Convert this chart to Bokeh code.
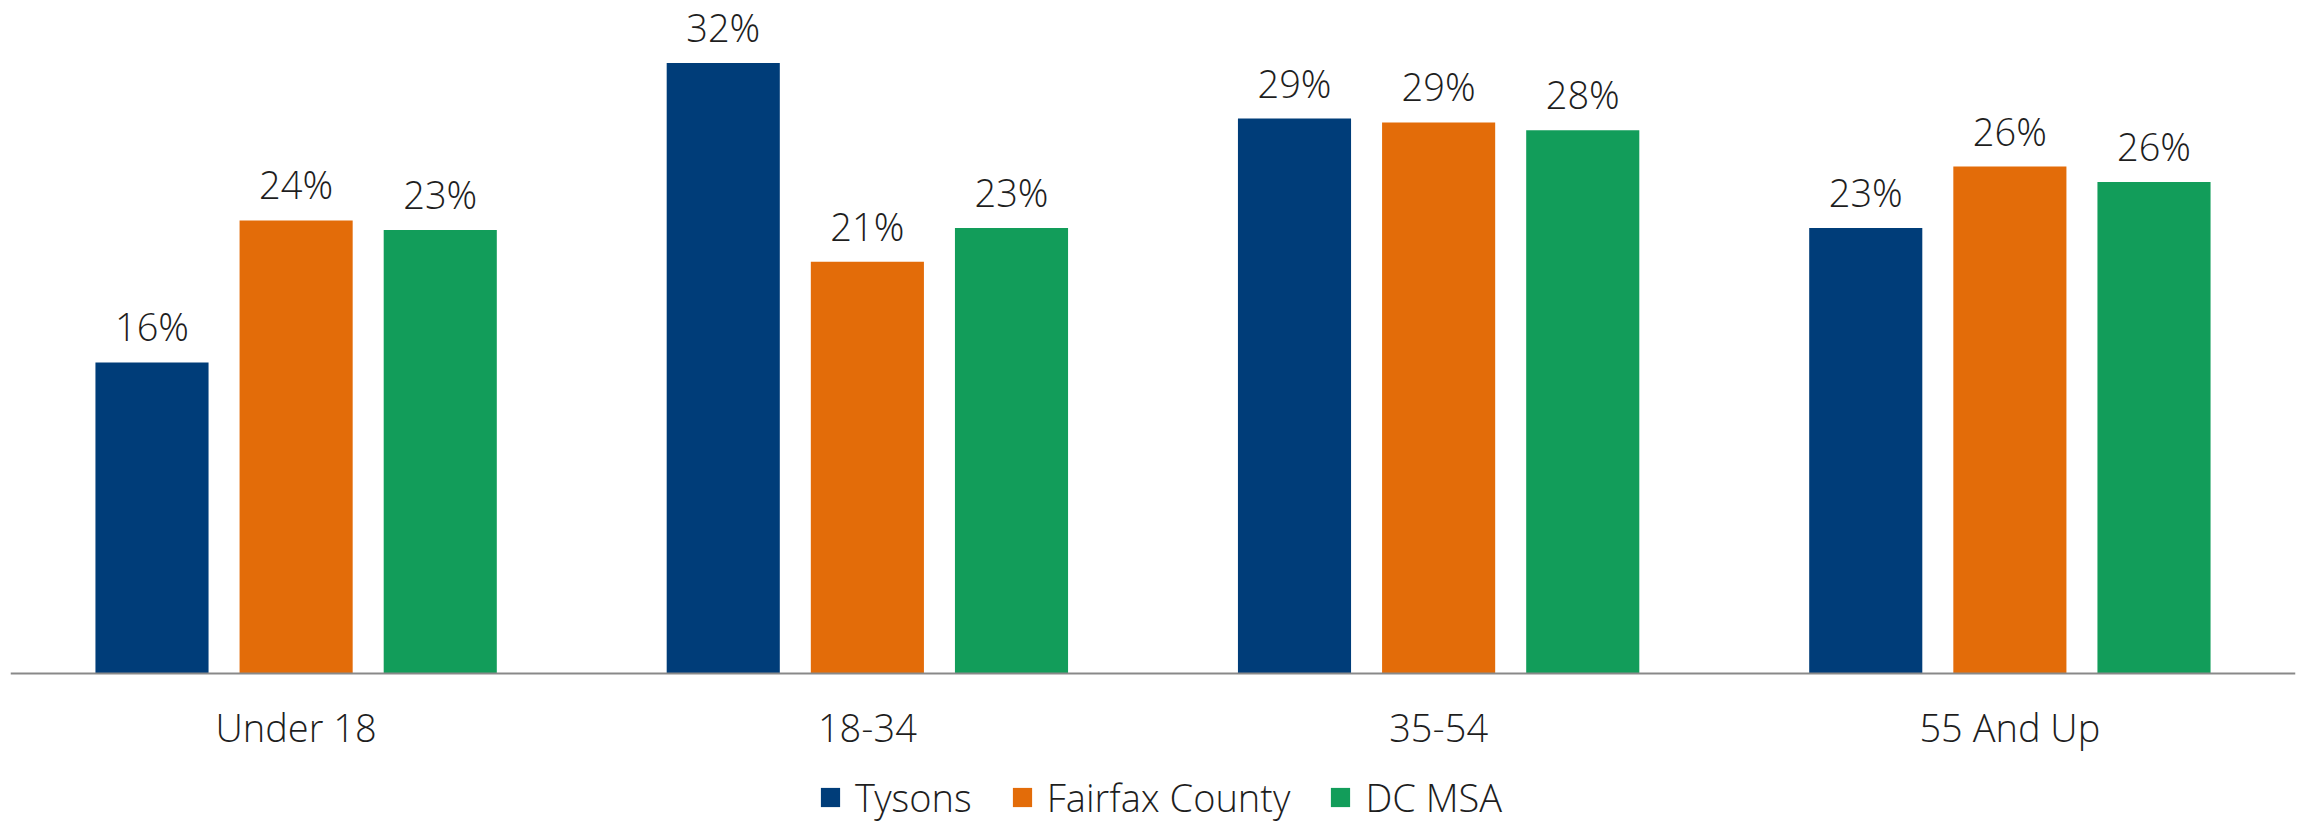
from bokeh.plotting import figure
from bokeh.models import ColumnDataSource, FactorRange, Range1d, Legend, LegendItem, LabelSet, Span
from bokeh.transform import dodge
from bokeh.embed import file_html
from bokeh.resources import INLINE
from bokeh.core.properties import value

categories = ["Under 18", "18-34", "35-54", "55 And Up"]
series_names = ["Tysons", "Fairfax County", "DC MSA"]
tysons = [16.2, 31.8, 28.9, 23.2]
fairfax = [23.6, 21.45, 28.7, 26.4]
dc_msa = [23.1, 23.2, 28.3, 25.6]
colors = ["#003D79", "#E36C09", "#129D5A"]

FONT = "Open Sans Light, Open Sans"
TXT = "#1e1e1e"
FS = "38px"

src = ColumnDataSource(dict(
    cat=categories,
    zero=[0] * len(categories),
    tysons=tysons, fairfax=fairfax, dc_msa=dc_msa,
    l_tysons=[f"{round(v)}%" for v in tysons],
    l_fairfax=[f"{round(v)}%" for v in fairfax],
    l_dc_msa=[f"{round(v)}%" for v in dc_msa],
))

PX_PER_UNIT = 19.2
AXIS_Y = 673
H = 822
p = figure(x_range=FactorRange(*categories, range_padding=0),
           y_range=Range1d(-(H - AXIS_Y) / PX_PER_UNIT, AXIS_Y / PX_PER_UNIT),
           width=2305, height=H,
           x_axis_type=None, y_axis_type=None,
           min_border=0, min_border_left=10, min_border_right=10,
           output_backend="svg", toolbar_location=None)

offsets = [-0.2523, 0.0, 0.2523]
keys = ["tysons", "fairfax", "dc_msa"]
renderers = []
for off, key, col in zip(offsets, keys, colors):
    r = p.vbar(x=dodge("cat", off, range=p.x_range), top=key, width=0.198,
               source=src, fill_color=col, line_color=None)
    renderers.append(r)
    p.add_layout(LabelSet(x=dodge("cat", off, range=p.x_range), y=key, text="l_" + key,
                          source=src, text_align="center", text_baseline="alphabetic",
                          y_offset=21, text_font=value(FONT), text_font_size=FS,
                          text_color=TXT))

# baseline (category axis line)
p.add_layout(Span(location=0, dimension="width", line_color="#898989", line_width=2))

# category labels
p.add_layout(LabelSet(x="cat", y="zero", text="cat", source=src,
                      text_align="center", text_baseline="alphabetic", y_offset=-68,
                      text_font=value(FONT), text_font_size=FS, text_color=TXT))

p.xgrid.grid_line_color = None
p.ygrid.grid_line_color = None
p.outline_line_color = None

legend = Legend(items=[LegendItem(label=n, renderers=[r]) for n, r in zip(series_names, renderers)],
                orientation="horizontal", location=(808, -1),
                glyph_width=24, glyph_height=24, label_standoff=13, spacing=38,
                label_text_font=FONT, label_text_font_size=FS, label_text_color=TXT,
                border_line_color=None, background_fill_alpha=0, padding=0, margin=0)
p.add_layout(legend, "center")

open("out.html", "w").write(file_html(p, INLINE))
